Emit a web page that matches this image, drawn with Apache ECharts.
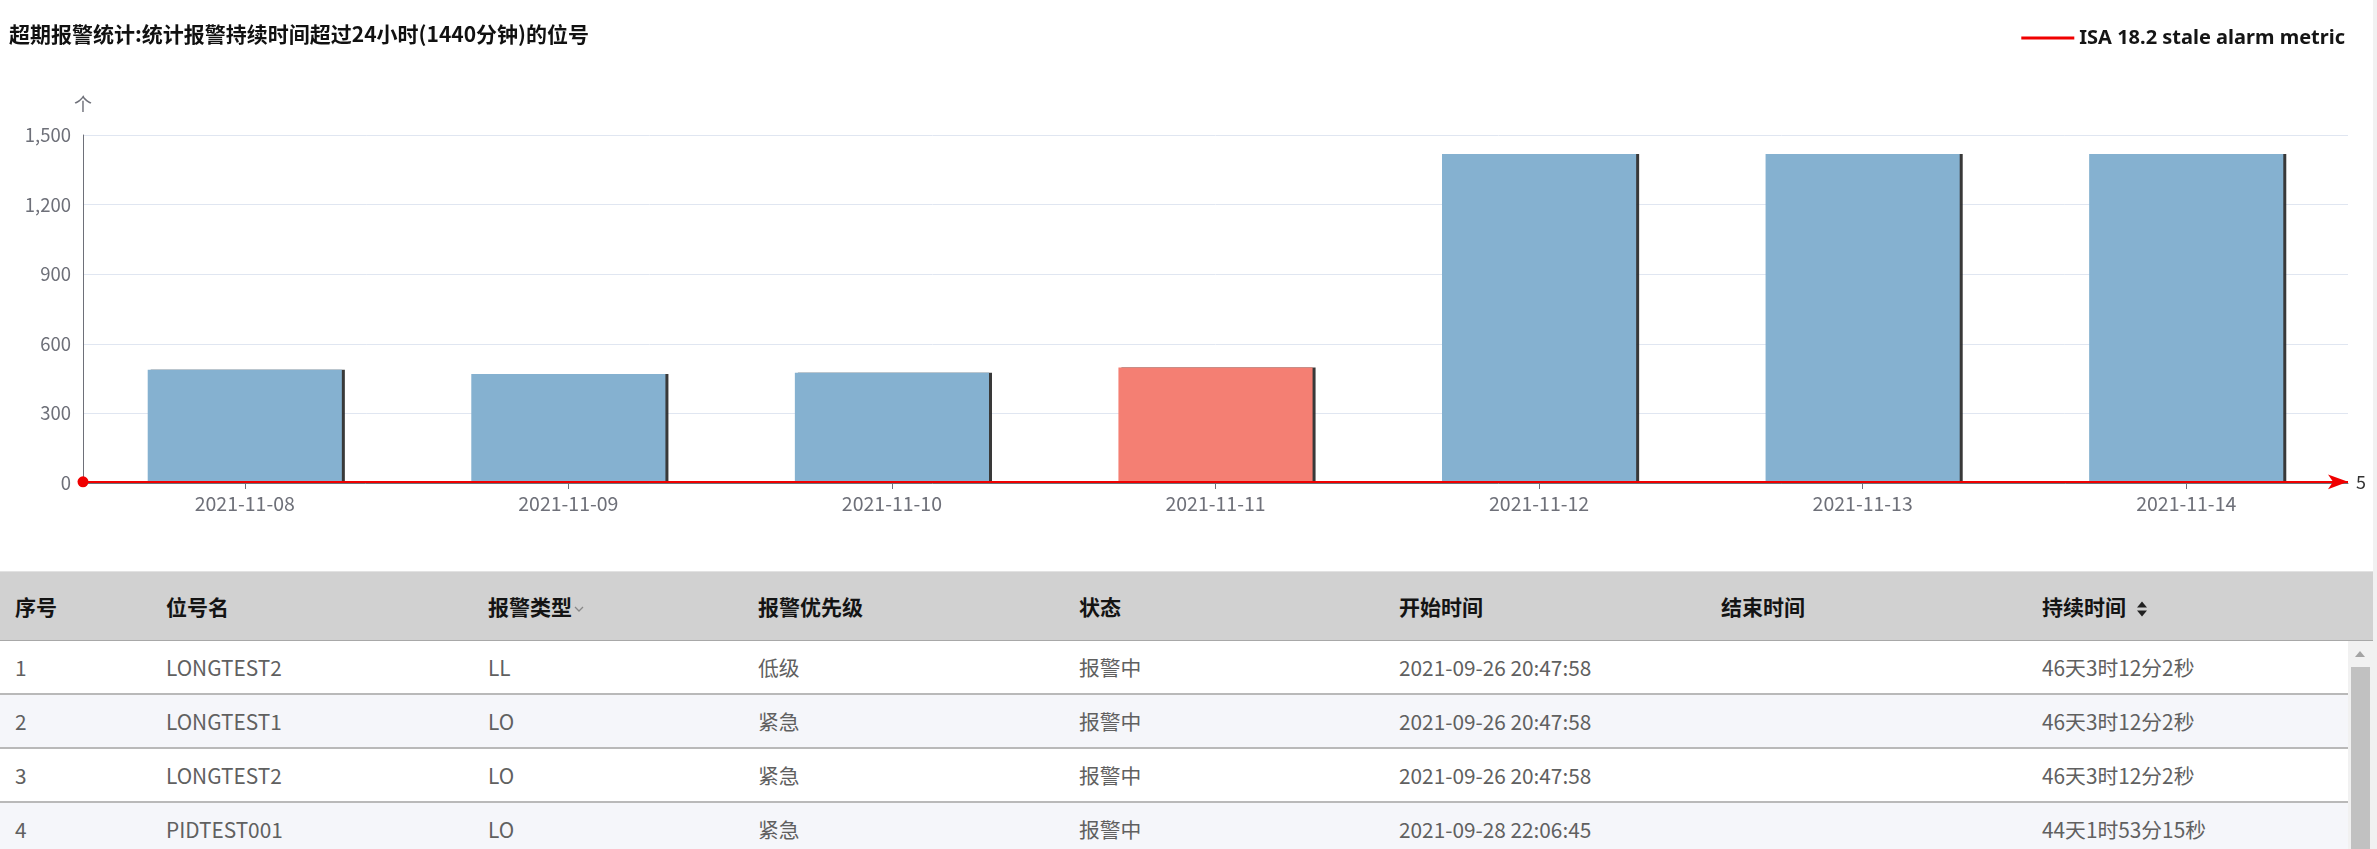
<!DOCTYPE html>
<html>
<head>
<meta charset="utf-8">
<script src="https://cdn.jsdelivr.net/npm/echarts/dist/echarts.min.js"></script>
<style>
  html, body { margin: 0; padding: 0; background: #fff; overflow: hidden; }
  body { width: 2377px; height: 849px; position: relative; font-family: "Noto Sans CJK SC", "Noto Sans", sans-serif; }
  #chart { position: absolute; left: 0; top: 0; width: 2377px; height: 571px; }
  #edge { position: absolute; right: 0; top: 0; width: 4px; height: 849px; background: #f1f1f1; }
  #thead { position: absolute; left: 0; top: 571px; width: 2373px; height: 68px; background: #d1d1d1;
           border-top: 1px solid #e2e2e2; border-bottom: 2px solid #a8a8a8; }
  .hcell { position: absolute; top: 0; height: 68px; line-height: 68px; font-size: 21px; font-weight: bold; color: #141414; white-space: nowrap; }
  .row { position: absolute; left: 0; width: 2348px; height: 52px; border-bottom: 2px solid #b9b9b9; background: #fff; }
  .row.alt { background: #f5f6fa; }
  .cell { position: absolute; top: 0; height: 52px; line-height: 52px; font-size: 20.8px; color: #606060; white-space: nowrap; }
  #sb { position: absolute; left: 2348px; top: 641px; width: 25px; height: 208px; background: #f1f1f1; }
  #sbthumb { position: absolute; left: 3px; top: 26px; width: 19px; height: 190px; background: #c1c1c1; }
  #sbarrow { position: absolute; left: 7px; top: 10px; width: 0; height: 0; border-left: 5px solid transparent; border-right: 5px solid transparent; border-bottom: 6px solid #a3a3a3; }
</style>
</head>
<body>
<div id="chart"></div>
<div id="thead"></div>
<div id="tbody"></div>
<div id="sb"><div id="sbarrow"></div><div id="sbthumb"></div></div>
<div id="edge"></div>
<script>
// ---------------- data ----------------
const categories = ['2021-11-08', '2021-11-09', '2021-11-10', '2021-11-11', '2021-11-12', '2021-11-13', '2021-11-14'];
const alarmCounts = [488, 470, 475, 498, 1418, 1418, 1418];
const highlightCategory = '2021-11-11';
const staleMetricValue = 5;
const yMin = 0, yMax = 1500, yInterval = 300;

const chartTitle = '超期报警统计:统计报警持续时间超过24小时(1440分钟)的位号';
const legendName = 'ISA 18.2 stale alarm metric';
const yAxisName = '个';

const tableHeaders = ['序号', '位号名', '报警类型', '报警优先级', '状态', '开始时间', '结束时间', '持续时间'];
const rowNumbers = ['1', '2', '3', '4'];
const tagNames = ['LONGTEST2', 'LONGTEST1', 'LONGTEST2', 'PIDTEST001'];
const alarmTypes = ['LL', 'LO', 'LO', 'LO'];
const priorities = ['低级', '紧急', '紧急', '紧急'];
const states = ['报警中', '报警中', '报警中', '报警中'];
const startTimes = ['2021-09-26 20:47:58', '2021-09-26 20:47:58', '2021-09-26 20:47:58', '2021-09-28 22:06:45'];
const endTimes = ['', '', '', ''];
const durations = ['46天3时12分2秒', '46天3时12分2秒', '46天3时12分2秒', '44天1时53分15秒'];

// ---------------- styles ----------------
const BLUE = '#85b1d0';
const RED_BAR = '#f47f73';
const RED_LINE = '#f00000';
const AXIS_GRAY = '#6e7079';
const colX = [15, 166, 488, 758, 1079, 1399, 1721, 2042];

// ---------------- chart ----------------
const chart = echarts.init(document.getElementById('chart'), null, { renderer: 'canvas' });
chart.setOption({
  animation: false,
  textStyle: { fontFamily: '"Noto Sans CJK SC", "Noto Sans", sans-serif' },
  title: {
    text: chartTitle, left: 4, top: 19,
    textStyle: { fontSize: 21, fontWeight: 'bold', color: '#111', fontFamily: '"Noto Sans CJK SC", sans-serif' }
  },
  legend: {
    data: [{ name: legendName, icon: 'rect' }], right: 27, top: 23, itemWidth: 53, itemHeight: 3,
    itemStyle: { color: RED_LINE },
    textStyle: { fontSize: 20, fontWeight: 'bold', color: '#151515', fontFamily: '"Noto Sans", sans-serif' }
  },
  grid: { left: 83, right: 29, top: 135, bottom: 88, containLabel: false },
  xAxis: {
    type: 'category', data: categories,
    axisLine: { show: true, lineStyle: { color: AXIS_GRAY, width: 1 } },
    axisTick: { show: true, alignWithLabel: true, length: 6, lineStyle: { color: AXIS_GRAY } },
    axisLabel: { fontSize: 19.5, color: AXIS_GRAY, margin: 11 },
    splitLine: { show: false }
  },
  yAxis: {
    type: 'value', min: yMin, max: yMax, interval: yInterval,
    name: yAxisName, nameGap: 22, nameTextStyle: { fontSize: 18, color: AXIS_GRAY },
    axisLine: { show: true, lineStyle: { color: AXIS_GRAY, width: 1 } },
    axisTick: { show: false },
    axisLabel: { fontSize: 18.5, color: AXIS_GRAY, margin: 12 },
    splitLine: { show: true, lineStyle: { color: '#e0e6f1', width: 1 } }
  },
  series: [
    {
      name: '超期位号数', type: 'bar', barWidth: '60%',
      data: alarmCounts.map((v, i) => ({
        value: v,
        itemStyle: { color: categories[i] === highlightCategory ? RED_BAR : BLUE }
      })),
      itemStyle: { shadowColor: 'rgba(35,35,35,0.9)', shadowOffsetX: 3, shadowOffsetY: 0, shadowBlur: 0 }
    },
    {
      name: legendName, type: 'line', data: [], symbol: 'none', color: RED_LINE,
      lineStyle: { color: RED_LINE, width: 3 },
      markLine: {
        silent: true,
        symbol: ['circle', 'arrow'],
        symbolSize: [11, 20],
        lineStyle: { color: RED_LINE, width: 2, type: 'solid' },
        label: { show: true, position: 'end', color: '#333', fontSize: 18, distance: 8 },
        data: [{ yAxis: staleMetricValue }]
      }
    }
  ]
});

// ---------------- table ----------------
const thead = document.getElementById('thead');
tableHeaders.forEach((h, i) => {
  const d = document.createElement('div');
  d.className = 'hcell';
  d.style.left = colX[i] + 'px';
  d.textContent = h;
  if (h === '报警类型') {
    d.insertAdjacentHTML('beforeend', '<svg width="10" height="8" style="margin-left:2px;vertical-align:middle" viewBox="0 0 10 8"><path d="M1 2 L5 6 L9 2" stroke="#888" stroke-width="1.3" fill="none"/></svg>');
  }
  if (h === '持续时间') {
    d.insertAdjacentHTML('beforeend', '<svg width="12" height="18" style="margin-left:10px;vertical-align:middle" viewBox="0 0 12 18"><path d="M1 7.5 L6 1.5 L11 7.5 Z" fill="#222"/><path d="M1 10.5 L6 16.5 L11 10.5 Z" fill="#222"/></svg>');
  }
  thead.appendChild(d);
});
const tbody = document.getElementById('tbody');
const columns = [rowNumbers, tagNames, alarmTypes, priorities, states, startTimes, endTimes, durations];
rowNumbers.forEach((_, r) => {
  const row = document.createElement('div');
  row.className = 'row' + (r % 2 === 1 ? ' alt' : '');
  row.style.top = (641 + r * 54) + 'px';
  columns.forEach((col, c) => {
    const d = document.createElement('div');
    d.className = 'cell';
    d.style.left = colX[c] + 'px';
    d.textContent = col[r];
    row.appendChild(d);
  });
  tbody.appendChild(row);
});
</script>
</body>
</html>
